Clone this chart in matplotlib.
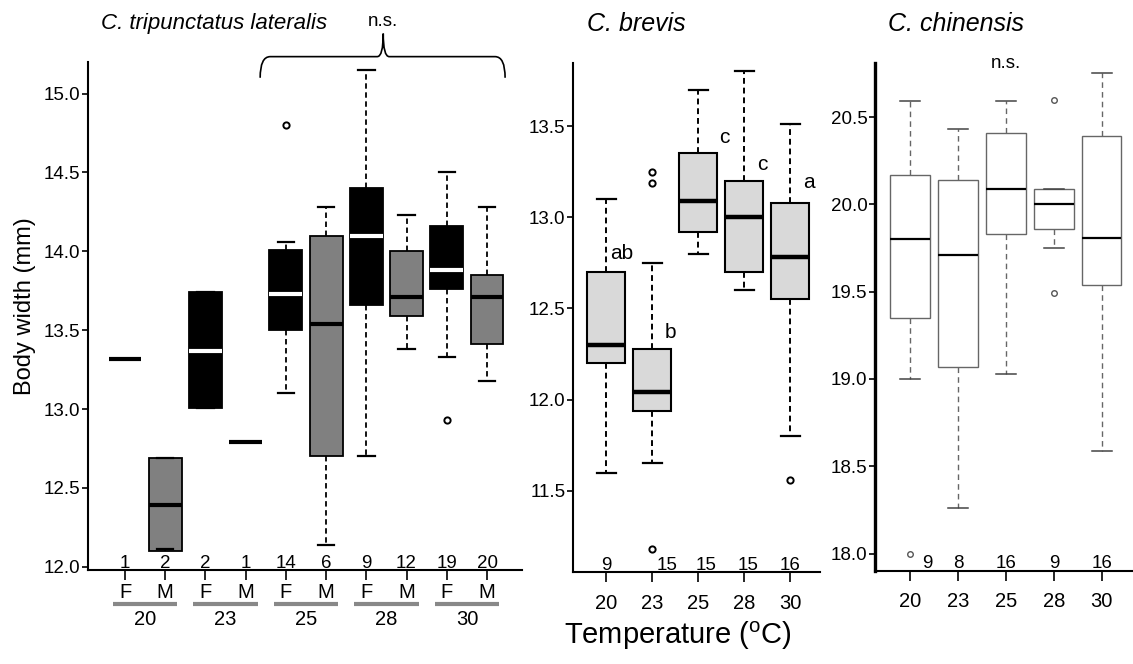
import matplotlib
matplotlib.use('Agg')
import matplotlib.pyplot as plt
from matplotlib.path import Path
from matplotlib.patches import PathPatch

plt.rcParams['font.family'] = ['Liberation Sans', 'DejaVu Sans']
plt.rcParams['mathtext.fontset'] = 'custom'
plt.rcParams['mathtext.rm'] = 'Liberation Sans'

# ---------------- data ----------------
# C. tripunctatus lateralis (by temperature and sex)
ctl_groups = ['20', '23', '25', '28', '30']
ctl_sex = ['F', 'M', 'F', 'M', 'F', 'M', 'F', 'M', 'F', 'M']
ctl_n = [1, 2, 2, 1, 14, 6, 9, 12, 19, 20]
ctl_whislo = [13.32, 12.11, 13.01, 12.79, 13.10, 12.14, 12.70, 13.38, 13.33, 13.18]
ctl_q1 = [13.32, 12.10, 13.01, 12.79, 13.50, 12.70, 13.66, 13.59, 13.76, 13.41]
ctl_med = [13.32, 12.39, 13.37, 12.79, 13.73, 13.54, 14.10, 13.71, 13.88, 13.71]
ctl_q3 = [13.32, 12.69, 13.74, 12.79, 14.01, 14.10, 14.40, 14.00, 14.16, 13.85]
ctl_whishi = [13.32, 12.69, 13.74, 12.79, 14.06, 14.28, 15.15, 14.23, 14.50, 14.28]
ctl_fliers = [[], [], [], [], [14.80], [], [], [], [12.93], []]

# C. brevis
cb_temps = ['20', '23', '25', '28', '30']
cb_n = [9, 15, 15, 15, 16]
cb_whislo = [11.60, 11.65, 12.80, 12.60, 11.80]
cb_q1 = [12.20, 11.94, 12.92, 12.70, 12.55]
cb_med = [12.30, 12.04, 13.09, 13.00, 12.78]
cb_q3 = [12.70, 12.28, 13.35, 13.20, 13.08]
cb_whishi = [13.10, 12.75, 13.70, 13.80, 13.51]
cb_fliers = [[], [13.19, 13.25, 11.18], [], [], [11.56]]
cb_letters = ['ab', 'b', 'c', 'c', 'a']
cb_letter_y = [12.80, 12.37, 13.44, 13.29, 13.19]

# C. chinensis
cc_temps = ['20', '23', '25', '28', '30']
cc_n = [9, 8, 16, 9, 16]
cc_whislo = [19.00, 18.26, 19.03, 19.75, 18.59]
cc_q1 = [19.35, 19.07, 19.83, 19.86, 19.54]
cc_med = [19.80, 19.71, 20.09, 20.00, 19.81]
cc_q3 = [20.17, 20.14, 20.41, 20.09, 20.39]
cc_whishi = [20.59, 20.43, 20.59, 20.09, 20.75]
cc_fliers = [[18.00], [], [], [20.60, 19.49], []]


def make_stats(lo, q1, med, q3, hi, fl):
    return [dict(whislo=a, q1=b, med=c, q3=d, whishi=e, fliers=f)
            for a, b, c, d, e, f in zip(lo, q1, med, q3, hi, fl)]


W, H = 1133, 664
fig = plt.figure(figsize=(W / 100, H / 100), dpi=100)


def px_axes(x0, y0, x1, y1):
    return fig.add_axes([x0 / W, 1 - y1 / H, (x1 - x0) / W, (y1 - y0) / H])


def style_axes(ax, lw=1.5):
    for s in ['top', 'right']:
        ax.spines[s].set_visible(False)
    for s in ['left', 'bottom']:
        ax.spines[s].set_linewidth(lw)
    ax.tick_params(axis='y', length=4.5, width=1.2, labelsize=13.5, pad=1)
    ax.tick_params(axis='x', length=7, width=1.2)


# ---------------- left panel ----------------
ax1 = px_axes(88, 62, 522, 570)
pos1 = list(range(1, len(ctl_n) + 1))
r1 = ax1.bxp(make_stats(ctl_whislo, ctl_q1, ctl_med, ctl_q3, ctl_whishi, ctl_fliers),
             positions=pos1, widths=0.82, patch_artist=True, manage_ticks=False,
             boxprops=dict(linewidth=1.3, edgecolor='black'),
             whiskerprops=dict(linewidth=1.3, linestyle=(0, (3, 2)), color='black'),
             capprops=dict(linewidth=1.6, color='black'),
             medianprops=dict(linewidth=3.0),
             flierprops=dict(marker='o', markersize=4.5, markerfacecolor='white',
                             markeredgecolor='black', markeredgewidth=1.4))
for box, med, sx, n in zip(r1['boxes'], r1['medians'], ctl_sex, ctl_n):
    box.set_facecolor('black' if sx == 'F' else '#808080')
    med.set_color('white' if (sx == 'F' and n > 1) else 'black')
ax1.set_xlim(0.08, 10.87)
ax1.set_ylim(11.98, 15.2)
ax1.set_yticks([12.0, 12.5, 13.0, 13.5, 14.0, 14.5, 15.0])
ax1.set_yticklabels([f'{v:.1f}' for v in [12.0, 12.5, 13.0, 13.5, 14.0, 14.5, 15.0]])
ax1.set_xticks(pos1)
ax1.set_xticklabels(ctl_sex)
style_axes(ax1)
ax1.tick_params(axis='x', labelsize=14.5, pad=2)
for p, n in zip(pos1, ctl_n):
    ax1.text(p, 11.995, str(n), ha='center', va='baseline', fontsize=13.5)
xt = ax1.get_xaxis_transform()
for i, g in enumerate(ctl_groups):
    c = 2 * i + 1.5
    ax1.plot([c - 0.8, c + 0.8], [-0.0665, -0.0665], color='#888888', lw=3,
             transform=xt, clip_on=False, solid_capstyle='butt')
    ax1.text(c, -0.0965, g, ha='center', va='center', fontsize=14.5,
             transform=xt, clip_on=False)

# bracket over 25-30
x0, x1, xc = 4.36, 10.45, 7.42
yb, yh, yp = 15.10, 15.234, 15.38
dx, dxc = 0.25, 0.15
verts = [(x0, yb), (x0, yh), (x0 + dx, yh), (xc - dxc, yh), (xc, yh), (xc, yp),
         (xc, yh), (xc + dxc, yh), (x1 - dx, yh), (x1, yh), (x1, yb)]
codes = [Path.MOVETO, Path.CURVE3, Path.CURVE3, Path.LINETO, Path.CURVE3, Path.CURVE3,
         Path.CURVE3, Path.CURVE3, Path.LINETO, Path.CURVE3, Path.CURVE3]
ax1.add_patch(PathPatch(Path(verts, codes), fill=False, lw=1.2, edgecolor='black',
                        clip_on=False))
ax1.text(xc, 15.43, 'n.s.', ha='center', va='baseline', fontsize=13.5, clip_on=False)

# ---------------- middle panel ----------------
ax2 = px_axes(573, 63, 820, 572)
pos2 = list(range(1, len(cb_n) + 1))
r2 = ax2.bxp(make_stats(cb_whislo, cb_q1, cb_med, cb_q3, cb_whishi, cb_fliers),
             positions=pos2, widths=0.83, patch_artist=True, manage_ticks=False,
             boxprops=dict(linewidth=1.5, edgecolor='black', facecolor='#d9d9d9'),
             whiskerprops=dict(linewidth=1.4, linestyle=(0, (3, 2)), color='black'),
             capprops=dict(linewidth=1.6, color='black'),
             medianprops=dict(linewidth=3.2, color='black'),
             flierprops=dict(marker='o', markersize=4.5, markerfacecolor='white',
                             markeredgecolor='black', markeredgewidth=1.4))
ax2.set_xlim(0.28, 5.65)
ax2.set_ylim(11.055, 13.846)
ax2.set_yticks([11.5, 12.0, 12.5, 13.0, 13.5])
ax2.set_yticklabels(['11.5', '12.0', '12.5', '13.0', '13.5'])
ax2.set_xticks(pos2)
ax2.set_xticklabels(cb_temps)
style_axes(ax2)
ax2.tick_params(axis='x', labelsize=14.5, pad=9)
cb_count_dx = [0.0, 0.33, 0.17, 0.09, 0.0]
for p, n, d in zip(pos2, cb_n, cb_count_dx):
    ax2.text(p + d, 11.066, str(n), ha='center', va='baseline', fontsize=13.5)
cb_letter_dx = [0.09, 0.28, 0.46, 0.28, 0.28]
for p, t, y, d in zip(pos2, cb_letters, cb_letter_y, cb_letter_dx):
    ax2.text(p + d, y, t, ha='left', va='center', fontsize=15)

# ---------------- right panel ----------------
ax3 = px_axes(875, 63, 1133, 571)
pos3 = list(range(1, len(cc_n) + 1))
r3 = ax3.bxp(make_stats(cc_whislo, cc_q1, cc_med, cc_q3, cc_whishi, cc_fliers),
             positions=pos3, widths=0.82, patch_artist=True, manage_ticks=False,
             boxprops=dict(linewidth=1.0, edgecolor='#666666', facecolor='white'),
             whiskerprops=dict(linewidth=1.0, linestyle=(0, (4, 3)), color='#666666'),
             capprops=dict(linewidth=1.1, color='#444444'),
             medianprops=dict(linewidth=1.6, color='black'),
             flierprops=dict(marker='o', markersize=4, markerfacecolor='white',
                             markeredgecolor='#555555', markeredgewidth=1.0))
ax3.set_xlim(0.27, 5.65)
ax3.set_ylim(17.90, 20.81)
ax3.set_yticks([18.0, 18.5, 19.0, 19.5, 20.0, 20.5])
ax3.set_yticklabels(['18.0', '18.5', '19.0', '19.5', '20.0', '20.5'])
ax3.set_xticks(pos3)
ax3.set_xticklabels(cc_temps)
style_axes(ax3, lw=1.5)
ax3.spines['left'].set_linewidth(2.4)
ax3.tick_params(axis='x', labelsize=14.5, pad=8)
cc_count_dx = [0.36, 0.0, 0.0, 0.0, 0.0]
for p, n, d in zip(pos3, cc_n, cc_count_dx):
    ax3.text(p + d, 17.92, str(n), ha='center', va='baseline', fontsize=13.5)
ax3.text(3, 20.78, 'n.s.', ha='center', va='baseline', fontsize=13.5, clip_on=False)

# ---------------- titles and labels ----------------
fig.text(214 / W, 1 - 23 / H, 'C. tripunctatus lateralis', style='italic',
         ha='center', va='center', fontsize=16)
fig.text(636 / W, 1 - 24 / H, 'C. brevis', style='italic',
         ha='center', va='center', fontsize=18)
fig.text(956 / W, 1 - 24 / H, 'C. chinensis', style='italic',
         ha='center', va='center', fontsize=18)
fig.text(25 / W, 1 - 306 / H, 'Body width (mm)', rotation=90,
         ha='center', va='center', fontsize=17)
fig.text(678 / W, 1 - 636 / H, r'Temperature ($^{\mathrm{o}}$C)',
         ha='center', va='center', fontsize=21)

fig.savefig('out.png', dpi=100)
